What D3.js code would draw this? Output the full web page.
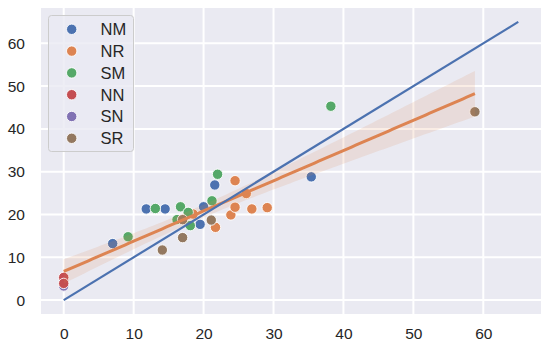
<!DOCTYPE html>
<html>
<head>
<meta charset="utf-8">
<script src="https://cdn.jsdelivr.net/npm/d3@7"></script>
<style>
  body { margin: 0; background: #fff; }
  svg { display: block; font-family: "Liberation Sans", Arial, sans-serif; }
</style>
</head>
<body>
<div id="chart"></div>
<script>
// groups in legend order, with seaborn "deep" colours
const groups = ['NM', 'NR', 'SM', 'NN', 'SN', 'SR'];
const groupColors = ['#4c72b0', '#dd8452', '#55a868', '#c44e52', '#8172b3', '#937860'];

// observed (x) vs predicted (y) per group
const nmPoints = [[7.0, 13.2], [11.8, 21.3], [14.5, 21.3], [19.5, 17.7], [20.0, 21.8], [21.6, 26.9], [35.4, 28.8]];
const nrPoints = [[18.5, 20.1], [21.7, 17.0], [23.9, 19.9], [24.5, 21.7], [24.5, 27.9], [26.1, 24.9], [26.9, 21.3], [29.1, 21.6]];
const smPoints = [[9.2, 14.8], [13.1, 21.4], [16.2, 18.8], [16.7, 21.8], [17.8, 20.5], [18.1, 17.4], [21.2, 23.2], [22.0, 29.4], [38.2, 45.3]];
const nnPoints = [[0, 5.3], [0, 3.9]];
const snPoints = [[0, 3.3], [0, 4.5]];
const srPoints = [[14.1, 11.7], [17.0, 18.8], [17.0, 14.6], [21.1, 18.7], [58.8, 44.0]];

const xTicks = [0, 10, 20, 30, 40, 50, 60];
const yTicks = [0, 10, 20, 30, 40, 50, 60];
const identityRange = [0, 65];

const width = 554;
const height = 347;
const margin = { top: 8, right: 13, bottom: 33, left: 41 };

const pointSets = [nmPoints, nrPoints, snPoints, nnPoints, smPoints, srPoints];
const setGroups = ['NM', 'NR', 'SN', 'NN', 'SM', 'SR'];
const data = [];
pointSets.forEach((pts, i) => {
  pts.forEach((p) => data.push({ group: setGroups[i], x: p[0], y: p[1] }));
});

const color = d3.scaleOrdinal().domain(groups).range(groupColors);

const x = d3.scaleLinear().domain([-3.25, 68.25]).range([margin.left, width - margin.right]);
const y = d3.scaleLinear().domain([-3.25, 68.25]).range([height - margin.bottom, margin.top]);

const svg = d3
  .select('#chart')
  .append('svg')
  .attr('width', width)
  .attr('height', height);

svg
  .append('rect')
  .attr('x', margin.left)
  .attr('y', margin.top)
  .attr('width', width - margin.left - margin.right)
  .attr('height', height - margin.top - margin.bottom)
  .attr('fill', '#eaeaf2');

// grid
svg
  .append('g')
  .selectAll('line')
  .data(xTicks)
  .enter()
  .append('line')
  .attr('x1', (d) => x(d))
  .attr('x2', (d) => x(d))
  .attr('y1', margin.top)
  .attr('y2', height - margin.bottom)
  .attr('stroke', '#fff')
  .attr('stroke-width', 2);

svg
  .append('g')
  .selectAll('line')
  .data(yTicks)
  .enter()
  .append('line')
  .attr('x1', margin.left)
  .attr('x2', width - margin.right)
  .attr('y1', (d) => y(d))
  .attr('y2', (d) => y(d))
  .attr('stroke', '#fff')
  .attr('stroke-width', 2);

// axes (labels only)
const xAxis = svg
  .append('g')
  .attr('transform', `translate(0,${height - margin.bottom})`)
  .call(d3.axisBottom(x).tickValues(xTicks).tickSize(0).tickPadding(14));
const yAxis = svg
  .append('g')
  .attr('transform', `translate(${margin.left},0)`)
  .call(d3.axisLeft(y).tickValues(yTicks).tickSize(0).tickPadding(16));
[xAxis, yAxis].forEach((a) => {
  a.select('.domain').remove();
  a.selectAll('text')
    .attr('font-size', 15.5)
    .attr('font-family', '"Liberation Sans", Arial, sans-serif')
    .attr('fill', '#262626');
});

// scatter
svg
  .append('g')
  .selectAll('circle')
  .data(data)
  .enter()
  .append('circle')
  .attr('cx', (d) => x(d.x))
  .attr('cy', (d) => y(d.y))
  .attr('r', 5.2)
  .attr('fill', (d) => color(d.group))
  .attr('stroke', '#fff')
  .attr('stroke-width', 0.9);

// least squares fit with 95% interval
const n = data.length;
const xm = d3.mean(data, (d) => d.x);
const ym = d3.mean(data, (d) => d.y);
const sxx = d3.sum(data, (d) => (d.x - xm) ** 2);
const sxy = d3.sum(data, (d) => (d.x - xm) * (d.y - ym));
const slope = sxy / sxx;
const intercept = ym - slope * xm;
const s = Math.sqrt(d3.sum(data, (d) => (d.y - intercept - slope * d.x) ** 2) / (n - 2));
const t = 2.03;
const xMin = d3.min(data, (d) => d.x);
const xMax = d3.max(data, (d) => d.x);
const fit = d3.range(0, 101).map((i) => {
  const xv = xMin + ((xMax - xMin) * i) / 100;
  const yv = intercept + slope * xv;
  const se = s * Math.sqrt(1 / n + (xv - xm) ** 2 / sxx);
  return { x: xv, y: yv, lo: yv - t * se, hi: yv + t * se };
});

svg
  .append('path')
  .datum(fit)
  .attr('d', d3.area().x((d) => x(d.x)).y0((d) => y(d.lo)).y1((d) => y(d.hi)))
  .attr('fill', '#dd8452')
  .attr('fill-opacity', 0.15);

svg
  .append('path')
  .datum(fit)
  .attr('d', d3.line().x((d) => x(d.x)).y((d) => y(d.y)))
  .attr('fill', 'none')
  .attr('stroke', '#dd8452')
  .attr('stroke-width', 3);

// 1:1 reference line
svg
  .append('line')
  .attr('x1', x(identityRange[0]))
  .attr('y1', y(identityRange[0]))
  .attr('x2', x(identityRange[1]))
  .attr('y2', y(identityRange[1]))
  .attr('stroke', '#4c72b0')
  .attr('stroke-width', 2.2);

// legend
const legend = svg.append('g').attr('transform', 'translate(48.5,15.5)');
legend
  .append('rect')
  .attr('width', 85)
  .attr('height', 136)
  .attr('rx', 3)
  .attr('fill', '#eaeaf2')
  .attr('fill-opacity', 0.8)
  .attr('stroke', '#cccccc')
  .attr('stroke-width', 1);

const rows = legend
  .selectAll('g.row')
  .data(groups)
  .enter()
  .append('g')
  .attr('class', 'row')
  .attr('transform', (d, i) => `translate(0,${13.8 + i * 21.8})`);

rows
  .append('circle')
  .attr('cx', 23.2)
  .attr('r', 5.2)
  .attr('fill', (d) => color(d))
  .attr('stroke', '#fff')
  .attr('stroke-width', 0.9);

rows
  .append('text')
  .attr('x', 52)
  .attr('dy', '0.36em')
  .attr('font-size', 16.5)
  .attr('fill', '#262626')
  .text((d) => d);
</script>
</body>
</html>
